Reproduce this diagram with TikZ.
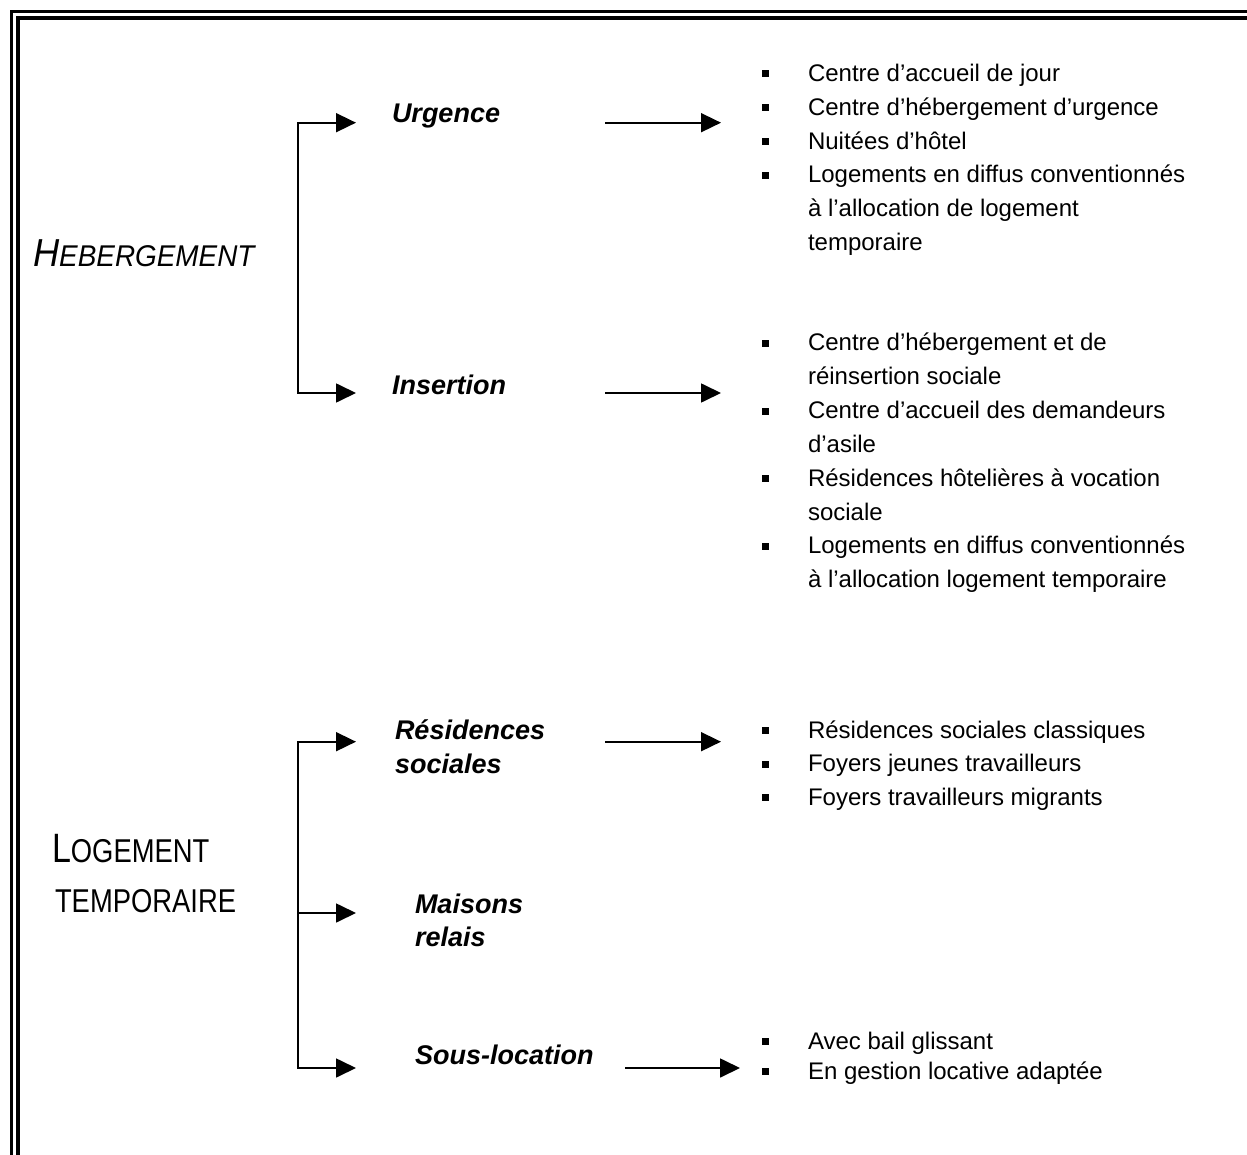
\documentclass[tikz,border=0pt]{standalone}
\usepackage{fontspec}
\setmainfont{Liberation Sans}
\newfontfamily\hebf[FakeStretch=0.93]{Liberation Sans}
\newfontfamily\logf[FakeStretch=0.83]{Liberation Sans}
\usetikzlibrary{arrows.meta}
\newcommand\bitem[3]{\node[bul] (#1b) at (765,#2-7.5) {}; \node[body] (#1) at (808,#2) {#3};}
\newcommand\citem[3]{\node[body] (#1) at (808,#2) {#3};}
\begin{document}
\begin{tikzpicture}[x=1pt,y=-1pt,
  txt/.style={anchor=base west, inner sep=0pt, outer sep=0pt},
  body/.style={txt, font=\fontsize{24}{24}\selectfont},
  lab/.style={txt, font=\fontsize{27}{27}\selectfont\bfseries\itshape},
  bul/.style={fill, rectangle, minimum size=7pt, inner sep=0pt},
  conn/.style={line width=1.7pt, -{Triangle[length=20pt,width=19pt]}},
  both/.style={line width=1.7pt, {Triangle[length=20pt,width=19pt]}-{Triangle[length=20pt,width=19pt]}},
  frame/.style={line width=3.5pt}]
\useasboundingbox (0,0) rectangle (1247,1155);
% double frame (top and left)
\draw[frame] (11.5,1160) -- (11.5,11.5) -- (1252,11.5);
\draw[frame] (18,1160) -- (18,18) -- (1252,18);

% main headings
\node[txt] (heb) at (33,266.7) {\hebf\itshape\fontsize{39}{39}\selectfont H\fontsize{30}{30}\selectfont EBERGEMENT};
\node[txt] (log1) at (52,862.7) {\logf\fontsize{41}{41}\selectfont L\fontsize{33}{33}\selectfont OGEMENT};
\node[txt] (log2) at (55,912.7) {\logf\fontsize{33}{33}\selectfont TEMPORAIRE};

% sub labels
\node[lab] (urg) at (392,123) {Urgence};
\node[lab] (ins) at (392,394) {Insertion};
\node[lab] (res1) at (395,739) {Résidences};
\node[lab] (res2) at (395,773) {sociales};
\node[lab] (mai1) at (415,913) {Maisons};
\node[lab] (mai2) at (415,946) {relais};
\node[lab] (sous) at (415,1064) {Sous-location};

% bracket coordinates
\coordinate (h1t) at (298,122.7);
\coordinate (h1b) at (298,393);
\coordinate (urgA) at (356,122.7);
\coordinate (insA) at (356,393);
\coordinate (h2t) at (298,741.7);
\coordinate (h2m) at (298,913);
\coordinate (h2b) at (298,1068);
\coordinate (resA) at (356,741.7);
\coordinate (maiA) at (356,913);
\coordinate (sousA) at (356,1068);

\draw[both] (urgA) -- (h1t) -- (h1b) -- (insA);
\draw[both] (resA) -- (h2t) -- (h2b) -- (sousA);
\draw[conn] (h2m) -- (maiA);

% right arrows
\coordinate (urgR1) at (605,122.7); \coordinate (urgR2) at (721,122.7);
\coordinate (insR1) at (605,393);   \coordinate (insR2) at (721,393);
\coordinate (resR1) at (605,741.7); \coordinate (resR2) at (721,741.7);
\coordinate (souR1) at (625,1068);  \coordinate (souR2) at (740,1068);
\draw[conn] (urgR1) -- (urgR2);
\draw[conn] (insR1) -- (insR2);
\draw[conn] (resR1) -- (resR2);
\draw[conn] (souR1) -- (souR2);

% list 1
\bitem{a1}{81.5}{Centre d’accueil de jour}
\bitem{a2}{115.3}{Centre d’hébergement d’urgence}
\bitem{a3}{149.1}{Nuitées d’hôtel}
\bitem{a4}{182.9}{Logements en diffus conventionnés}
\citem{a5}{216.7}{à l’allocation de logement}
\citem{a6}{250.5}{temporaire}

% list 2
\bitem{b1}{351}{Centre d’hébergement et de}
\citem{b2}{384.8}{réinsertion sociale}
\bitem{b3}{418.6}{Centre d’accueil des demandeurs}
\citem{b4}{452.4}{d’asile}
\bitem{b5}{486.2}{Résidences hôtelières à vocation}
\citem{b6}{520}{sociale}
\bitem{b7}{553.8}{Logements en diffus conventionnés}
\citem{b8}{587.6}{à l’allocation logement temporaire}

% list 3
\bitem{c1}{738}{Résidences sociales classiques}
\bitem{c2}{771.5}{Foyers jeunes travailleurs}
\bitem{c3}{805}{Foyers travailleurs migrants}

% list 4
\bitem{d1}{1049}{Avec bail glissant}
\bitem{d2}{1079}{En gestion locative adaptée}
\end{tikzpicture}
\end{document}
